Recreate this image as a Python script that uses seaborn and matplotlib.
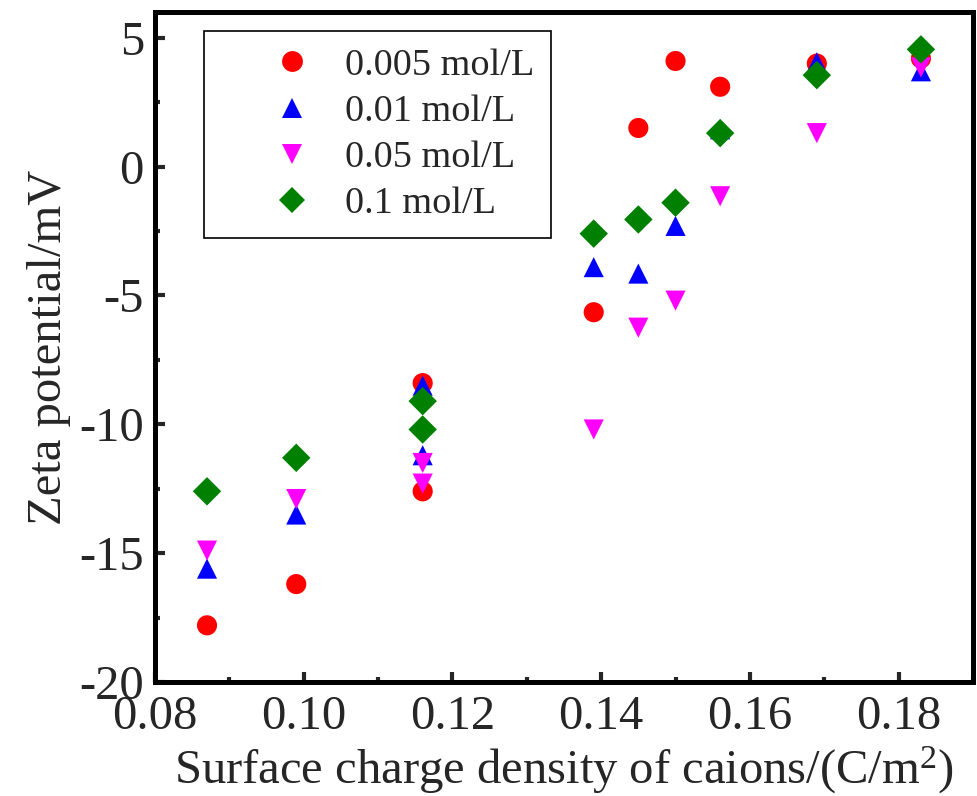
import matplotlib
matplotlib.use('Agg')
import matplotlib.pyplot as plt
from matplotlib.lines import Line2D
from matplotlib.ticker import MultipleLocator, FormatStrFormatter
import pandas as pd
import seaborn as sns

# surface charge density of cations (C/m2); two samples share 0.116
charge = [0.087, 0.099, 0.116, 0.116, 0.139, 0.145, 0.150, 0.156, 0.169, 0.183]
# zeta potential (mV) for each electrolyte concentration
zeta_0005 = [-17.8, -16.2, -8.4, -12.6, -5.65, 1.5, 4.1, 3.1, 4.0, 4.2]
zeta_001 = [-15.6, -13.5, -8.5, -11.2, -3.9, -4.15, -2.3, 1.45, 4.05, 3.7]
zeta_005 = [-14.9, -12.9, -11.5, -12.3, -10.2, -6.25, -5.2, -1.15, 1.3, 3.85]
zeta_01 = [-12.6, -11.3, -9.1, -10.2, -2.6, -2.05, -1.4, 1.3, 3.55, 4.55]

labels = ['0.005 mol/L', '0.01 mol/L', '0.05 mol/L', '0.1 mol/L']
colors = ['red', 'blue', 'magenta', 'green']
markers = ['o', '^', 'v', 'D']

# long format for seaborn
frames = []
for lab, vals in zip(labels, [zeta_0005, zeta_001, zeta_005, zeta_01]):
    frames.append(pd.DataFrame({'charge': charge, 'zeta': vals, 'conc': lab}))
df = pd.concat(frames, ignore_index=True)

sns.set_style('ticks')
plt.rcParams['font.family'] = ['Liberation Serif', 'DejaVu Serif']
plt.rcParams['mathtext.fontset'] = 'custom'
plt.rcParams['mathtext.rm'] = 'Liberation Serif'
plt.rcParams['axes.unicode_minus'] = False

fig = plt.figure(figsize=(9.77, 7.96), dpi=100)
ax = fig.add_axes([0.1586, 0.1432, 0.8373, 0.8417])

sns.scatterplot(data=df, x='charge', y='zeta', hue='conc', style='conc',
                palette=dict(zip(labels, colors)),
                markers=dict(zip(labels, markers)),
                s=210, linewidth=0, ax=ax, legend=False)

ax.set_xlim(0.08, 0.19)
ax.set_ylim(-20, 6)
ax.xaxis.set_major_locator(MultipleLocator(0.02))
ax.xaxis.set_minor_locator(MultipleLocator(0.01))
ax.xaxis.set_major_formatter(FormatStrFormatter('%.2f'))
ax.yaxis.set_major_locator(MultipleLocator(5))
ax.yaxis.set_minor_locator(MultipleLocator(2.5))

for sp in ax.spines.values():
    sp.set_visible(True)
    sp.set_linewidth(3.6)
    sp.set_color('black')
ax.tick_params(which='major', direction='in', length=7, width=3, labelsize=35, pad=8,
               top=False, right=False)
ax.tick_params(axis='x', which='major', pad=9.5)
ax.tick_params(which='minor', direction='in', length=3.6, width=3, top=False, right=False)

ax.set_xlabel('Surface charge density of caions/(C/m$\\mathregular{^2}$)', fontsize=35, labelpad=4)
ax.set_ylabel('Zeta potential/mV', fontsize=35, labelpad=6)

handles = []
for lab, c, m in zip(labels, colors, markers):
    ms = 13.5 if m == 'D' else 15
    handles.append(Line2D([], [], linestyle='none', marker=m, color=c, markersize=ms,
                          markeredgewidth=0))
leg = ax.legend(handles, labels, loc='upper left', bbox_to_anchor=(0.06, 0.972),
                borderaxespad=0, fontsize=27.5, frameon=True, fancybox=False,
                framealpha=1, edgecolor='black', borderpad=0.45, handlelength=3.7,
                handletextpad=-0.47, labelspacing=0.3)
leg.get_frame().set_linewidth(1.2)

fig.savefig('out.png', dpi=100)
